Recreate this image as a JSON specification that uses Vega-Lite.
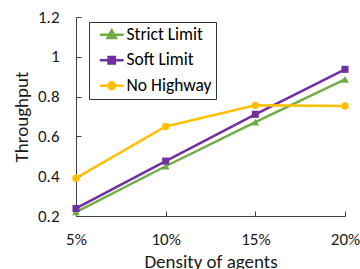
{
  "$schema": "https://vega.github.io/schema/vega-lite/v6.json",
  "width": 269,
  "height": 199,
  "autosize": "none",
  "padding": {"left": 76, "top": 17, "right": 15, "bottom": 53},
  "config": {
    "font": "Carlito, Lato",
    "view": {"stroke": null},
    "axis": {"grid": false, "domainColor": "#404040", "tickColor": "#404040", "labelColor": "#1a1a1a", "titleColor": "#1a1a1a", "labelFont": "Carlito, Lato", "titleFont": "Carlito, Lato", "titleFontWeight": "normal", "labelFontSize": 17, "titleFontSize": 19}
  },
  "data": {"values": [
    {"density": "5%", "series": "Strict Limit", "value": 0.22},
    {"density": "10%", "series": "Strict Limit", "value": 0.45},
    {"density": "15%", "series": "Strict Limit", "value": 0.672},
    {"density": "20%", "series": "Strict Limit", "value": 0.887},
    {"density": "5%", "series": "Soft Limit", "value": 0.238},
    {"density": "10%", "series": "Soft Limit", "value": 0.476},
    {"density": "15%", "series": "Soft Limit", "value": 0.711},
    {"density": "20%", "series": "Soft Limit", "value": 0.937},
    {"density": "5%", "series": "No Highway", "value": 0.39},
    {"density": "10%", "series": "No Highway", "value": 0.65},
    {"density": "15%", "series": "No Highway", "value": 0.756},
    {"density": "20%", "series": "No Highway", "value": 0.753}
  ]},
  "encoding": {
    "x": {"field": "density", "type": "ordinal", "sort": ["5%", "10%", "15%", "20%"],
      "scale": {"type": "point", "padding": 0},
      "axis": {"title": "Density of agents", "labelAngle": 0, "tickSize": -5, "labelPadding": 20.5, "titlePadding": 5, "domainWidth": 1}},
    "y": {"field": "value", "type": "quantitative",
      "scale": {"domain": [0.2, 1.2], "nice": false},
      "axis": {"title": "Throughput", "values": [0.2, 0.4, 0.6, 0.8, 1, 1.2], "format": "~g", "tickSize": -5, "labelPadding": 22, "titlePadding": 6}},
    "color": {"field": "series", "type": "nominal",
      "scale": {"domain": ["Strict Limit", "Soft Limit", "No Highway"], "range": ["#70AD47", "#7030A0", "#FFC000"]},
      "legend": {
        "title": null, "orient": "none", "legendX": 13, "legendY": 5,
        "strokeColor": "#333", "padding": 4, "symbolSize": 196, "symbolOffset": 10,
        "rowPadding": 6.5, "labelOffset": 6, "labelFontSize": 17.5, "labelFont": "Carlito, Lato", "labelColor": "#000",
        "labelExpr": "datum.label + '    '",
        "symbolStrokeWidth": 2.5,
        "encode": {"symbols": {"update": {
          "shape": {"signal": "datum.value == 'Strict Limit' ? 'M-1.7,0H1.7M0,-0.62L0.6,0.45L-0.6,0.45Z' : datum.value == 'Soft Limit' ? 'M-1.7,0H1.7M-0.45,-0.45H0.45V0.45H-0.45Z' : 'M-1.7,0H1.7M0.5,0A0.5,0.5 0 1,1 -0.5,0A0.5,0.5 0 1,1 0.5,0Z'"},
          "fill": {"scale": "color", "field": "value"},
          "stroke": {"scale": "color", "field": "value"},
          "opacity": {"value": 1}
        }}}
      }}
  },
  "layer": [
    {"mark": {"type": "line", "strokeWidth": 2.5}},
    {"transform": [{"filter": "datum.series == 'Strict Limit'"}],
     "mark": {"type": "point", "filled": true, "opacity": 1, "shape": "triangle-up", "size": 60}},
    {"transform": [{"filter": "datum.series == 'Soft Limit'"}],
     "mark": {"type": "point", "filled": true, "opacity": 1, "shape": "square", "size": 50}},
    {"transform": [{"filter": "datum.series == 'No Highway'"}],
     "mark": {"type": "point", "filled": true, "opacity": 1, "shape": "circle", "size": 55}}
  ]
}
